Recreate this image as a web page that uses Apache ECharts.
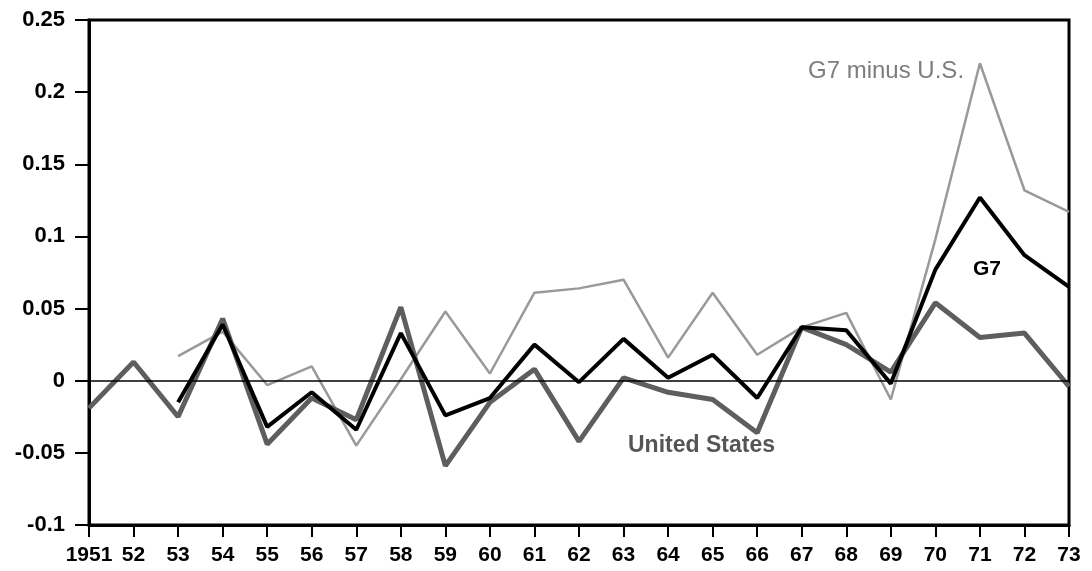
<!DOCTYPE html>
<html>
<head>
<meta charset="utf-8">
<title>G7 chart</title>
<script src="https://cdn.jsdelivr.net/npm/echarts@6/dist/echarts.min.js"></script>
<style>
  html, body { margin: 0; padding: 0; background: #fff; }
  #chart { width: 1092px; height: 571px; }
</style>
</head>
<body>
<div id="chart"></div>
<script>
const years = ['1951', '52', '53', '54', '55', '56', '57', '58', '59', '60', '61', '62',
  '63', '64', '65', '66', '67', '68', '69', '70', '71', '72', '73']

const unitedStates = [-0.019, 0.013, -0.025, 0.043, -0.044, -0.012, -0.027, 0.051, -0.059, -0.015, 0.008, -0.042,
  0.002, -0.008, -0.013, -0.036, 0.037, 0.025, 0.006, 0.054, 0.030, 0.033, -0.004]

const g7 = [null, null, -0.015, 0.039, -0.032, -0.008, -0.034, 0.033, -0.024, -0.012, 0.025, -0.001,
  0.029, 0.002, 0.018, -0.012, 0.037, 0.035, -0.002, 0.077, 0.127, 0.087, 0.065]

const g7MinusUS = [null, null, 0.017, 0.034, -0.003, 0.010, -0.045, 0.001, 0.048, 0.005, 0.061, 0.064,
  0.070, 0.016, 0.061, 0.018, 0.037, 0.047, -0.013, 0.098, 0.220, 0.132, 0.117]

const labelFont = 'Liberation Sans, Arial, Helvetica, sans-serif'

const chart = echarts.init(document.getElementById('chart'))

chart.setOption({
  backgroundColor: '#fff',
  animation: false,
  grid: {
    left: 89,
    right: 23,
    top: 20,
    bottom: 46,
    show: true,
    borderColor: '#000',
    borderWidth: 3,
    containLabel: false
  },
  xAxis: {
    type: 'category',
    data: years,
    boundaryGap: false,
    axisLine: { onZero: false, lineStyle: { color: '#000', width: 3 } },
    axisTick: { alignWithLabel: true, length: 12, interval: 0, lineStyle: { color: '#000', width: 2 } },
    axisLabel: {
      interval: 0,
      hideOverlap: false,
      margin: 20,
      color: '#000',
      fontSize: 21,
      fontWeight: 'bold',
      fontFamily: labelFont
    },
    splitLine: { show: false }
  },
  yAxis: {
    type: 'value',
    min: -0.1,
    max: 0.25,
    interval: 0.05,
    axisLine: { show: true, lineStyle: { color: '#000', width: 3 } },
    axisTick: { show: true, length: 14, lineStyle: { color: '#000', width: 2 } },
    axisLabel: {
      margin: 24,
      color: '#000',
      fontSize: 22,
      fontWeight: 'bold',
      fontFamily: labelFont,
      formatter: (v) => String(Math.round(v * 100) / 100)
    },
    splitLine: { show: false }
  },
  series: [
    {
      name: 'G7 minus U.S.',
      type: 'line',
      data: g7MinusUS,
      symbol: 'none',
      lineStyle: { color: '#999', width: 2.5 },
      markLine: {
        silent: true,
        symbol: 'none',
        label: { show: false },
        lineStyle: { color: '#000', width: 1.5, type: 'solid' },
        data: [{ yAxis: 0 }]
      },
      z: 2
    },
    {
      name: 'United States',
      type: 'line',
      data: unitedStates,
      symbol: 'none',
      lineStyle: { color: '#5e5e5e', width: 5 },
      z: 3
    },
    {
      name: 'G7',
      type: 'line',
      data: g7,
      symbol: 'none',
      lineStyle: { color: '#000', width: 4 },
      z: 4
    }
  ],
  graphic: [
    {
      type: 'text',
      left: 808,
      top: 59,
      style: { text: 'G7 minus U.S.', fill: '#7d7d7d', font: '24px ' + labelFont }
    },
    {
      type: 'text',
      left: 973,
      top: 259,
      style: { text: 'G7', fill: '#000', font: 'bold 21px ' + labelFont }
    },
    {
      type: 'text',
      left: 628,
      top: 434,
      style: { text: 'United States', fill: '#555', font: 'bold 23px ' + labelFont }
    }
  ]
})
</script>
</body>
</html>
